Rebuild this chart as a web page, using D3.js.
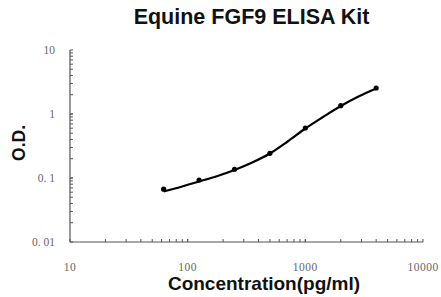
<!DOCTYPE html>
<html><head><meta charset="utf-8">
<script src="https://cdn.jsdelivr.net/npm/d3@7/dist/d3.min.js"></script>
<style>body{margin:0;background:#fff}svg{display:block}</style>
</head><body>
<script>
// measured standards
const concentrations = [62.5, 125, 250, 500, 1000, 2000, 4000];
const odValues = [0.067, 0.093, 0.137, 0.243, 0.604, 1.35, 2.55];
// fitted curve
const fitConc = [62.5, 88.4, 125, 176.8, 250, 353.6, 500, 707.1, 1000, 1414, 2000, 2828, 4000];
const fitOD = [0.0615, 0.0729, 0.0882, 0.1067, 0.1334, 0.1747, 0.2414, 0.3718, 0.5935, 0.8977, 1.334, 1.877, 2.503];
const xTickLabels = [10, 100, 1000, 10000];
const yTickLabels = [0.01, 0.1, 1, 10];
const yTickText = ["0. 01", "0. 1", "1", "10"];
const title = "Equine FGF9 ELISA Kit";
const xTitle = "Concentration(pg/ml)";
const yTitle = "O.D.";

const W = 441, H = 297;
const svg = d3.select("body").append("svg").attr("width", W).attr("height", H);
const x = d3.scaleLog().domain([10, 10000]).range([70, 423]);
const y = d3.scaleLog().domain([0.01, 10]).range([242, 50]);

const xMinor = [];
for (let d = 10; d < 10000; d *= 10) for (let k = 1; k <= 10; k++) xMinor.push(d * k);
const yMinor = [];
for (let d = 0.01; d < 10; d *= 10) for (let k = 1; k <= 10; k++) yMinor.push(+(d * k).toPrecision(3));

const g = svg.append("g");
g.selectAll(".xt").data(xMinor).enter().append("line")
  .attr("x1", d => x(d)).attr("x2", d => x(d))
  .attr("y1", y(0.01)).attr("y2", y(0.01) - 3)
  .attr("stroke", "#555").attr("stroke-width", 1);
g.selectAll(".yt").data(yMinor).enter().append("line")
  .attr("x1", x(10)).attr("x2", x(10) + 3)
  .attr("y1", d => y(d)).attr("y2", d => y(d))
  .attr("stroke", "#555").attr("stroke-width", 1);
g.append("line").attr("x1", x(10)).attr("x2", x(10000)).attr("y1", y(0.01)).attr("y2", y(0.01))
  .attr("stroke", "#555").attr("stroke-width", 1.2);
g.append("line").attr("x1", x(10)).attr("x2", x(10)).attr("y1", y(0.01)).attr("y2", y(10))
  .attr("stroke", "#555").attr("stroke-width", 1.2);

g.selectAll(".xl").data(xTickLabels).enter().append("text")
  .attr("x", d => x(d)).attr("y", 271).attr("text-anchor", "middle")
  .attr("font-family", "Liberation Serif, serif").attr("font-size", 11.5)
  .attr("letter-spacing", 0.5).attr("fill", "#666")
  .text(d => d);
g.selectAll(".yl").data(yTickLabels).enter().append("text")
  .attr("x", 55).attr("y", d => y(d) + 4).attr("text-anchor", "end")
  .attr("font-family", "Liberation Serif, serif").attr("font-size", 11.5).attr("fill", "#666")
  .text((d, i) => yTickText[i]);

const fit = fitConc.map((c, i) => [c, fitOD[i]]);
const line = d3.line().x(d => x(d[0])).y(d => y(d[1])).curve(d3.curveMonotoneX);
g.append("path").datum(fit).attr("d", line).attr("fill", "none")
  .attr("stroke", "#000").attr("stroke-width", 2.2);
const pts = concentrations.map((c, i) => [c, odValues[i]]);
g.selectAll(".pt").data(pts).enter().append("circle")
  .attr("cx", d => x(d[0])).attr("cy", d => y(d[1])).attr("r", 2.6).attr("fill", "#000");

svg.append("text").attr("x", 251.5).attr("y", 24).attr("text-anchor", "middle")
  .attr("font-family", "Liberation Sans, Arial, sans-serif").attr("font-weight", "bold")
  .attr("font-size", 21.5).attr("fill", "#111").text(title);
svg.append("text").attr("x", 264).attr("y", 290).attr("text-anchor", "middle")
  .attr("font-family", "Liberation Sans, Arial, sans-serif").attr("font-weight", "bold")
  .attr("font-size", 19).attr("fill", "#111").text(xTitle);
svg.append("text").attr("transform", "translate(25,143) rotate(-90)").attr("text-anchor", "middle")
  .attr("font-family", "Liberation Sans, Arial, sans-serif").attr("font-weight", "bold")
  .attr("font-size", 17.5).attr("fill", "#111").text(yTitle);
</script>
</body></html>
